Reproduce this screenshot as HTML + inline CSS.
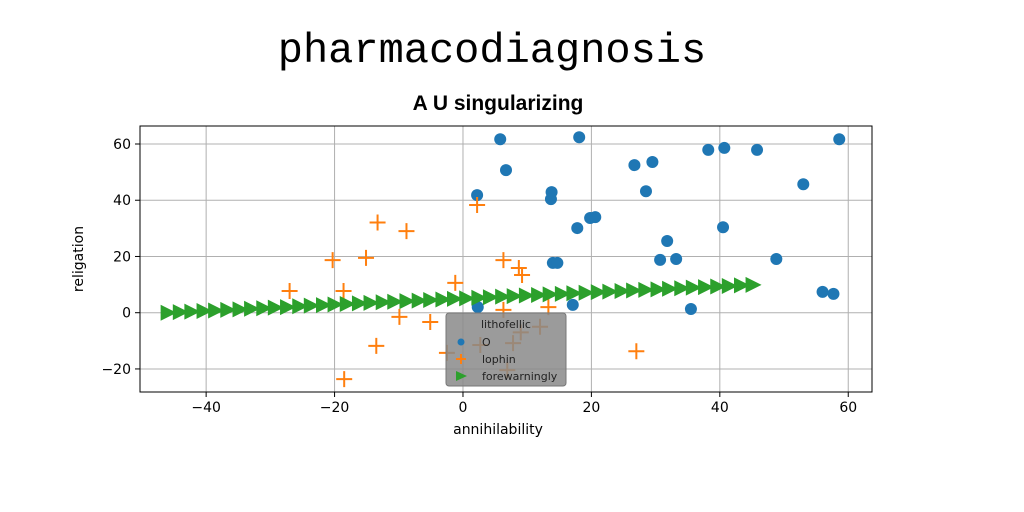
<!DOCTYPE html>
<html><head><meta charset="utf-8"><style>
body{margin:0;background:#fff;width:1024px;height:512px;overflow:hidden}
svg{display:block}
</style></head><body>
<svg id="chart" width="1024" height="512">
<text x="492" y="62" text-anchor="middle" font-family="Liberation Mono, monospace" font-size="42" fill="#000">pharmacodiagnosis</text>
<text x="498" y="110" text-anchor="middle" font-family="Liberation Sans Narrow, Liberation Sans, sans-serif" font-weight="bold" font-size="21" style="font-stretch:condensed" fill="#000">A U singularizing</text>
<g id="grid"></g><g id="marks"></g><g id="axes"></g><g id="legend"></g>
</svg>
<script>
const xTicks=[-40,-20,0,20,40,60];
const yTicks=[-20,0,20,40,60];
const blueX=[5.8,18.1,6.7,2.2,13.8,13.7,26.7,29.5,38.2,40.7,45.8,58.6,53.0,28.5,17.8,19.8,20.6,31.8,40.5,14.0,14.7,30.7,33.2,48.8,56.0,57.7,17.1,35.5,2.3];
const blueY=[61.7,62.4,50.7,41.8,42.9,40.4,52.5,53.6,57.9,58.6,57.9,61.7,45.7,43.2,30.1,33.7,34.0,25.5,30.4,17.7,17.7,18.8,19.1,19.1,7.4,6.7,2.8,1.3,2.0];
const orangeX=[2.2,-13.3,-8.8,-20.3,-15.1,6.3,8.7,9.2,-27.0,-18.6,-1.2,-9.9,-5.1,-13.5,-18.5,6.3,13.3,27.0,-2.5,12.0,9.0,2.7,6.9,7.8];
const orangeY=[38.3,32.1,29.0,18.7,19.5,18.7,15.9,13.4,7.7,7.7,10.6,-1.5,-3.3,-11.8,-23.6,1.0,2.0,-13.7,-14.3,-5.0,-7.0,-11.5,-20.4,-10.8];
const greenX=[-46,-44.1,-42.3,-40.4,-38.6,-36.7,-34.8,-33,-31.1,-29.3,-27.4,-25.5,-23.7,-21.8,-20,-18.1,-16.2,-14.4,-12.5,-10.7,-8.8,-6.9,-5.1,-3.2,-1.4,0.5,2.4,4.2,6.1,7.9,9.8,11.7,13.5,15.4,17.2,19.1,21,22.8,24.7,26.5,28.4,30.3,32.1,34,35.8,37.7,39.6,41.4,43.3,45.1];
const greenY=[0,0.2,0.4,0.6,0.8,1,1.2,1.4,1.6,1.8,2,2.3,2.5,2.7,2.9,3.1,3.3,3.5,3.7,3.9,4.1,4.3,4.5,4.7,4.9,5.1,5.3,5.5,5.7,5.9,6.1,6.3,6.5,6.7,6.9,7.1,7.3,7.5,7.7,7.9,8.1,8.3,8.5,8.7,8.9,9.1,9.3,9.5,9.7,9.9];
const L=140,R=872,T=126,B=392;
const X0=-50.3,X1=63.7,Y0=-28.2,Y1=66.4;
const sx=v=>L+(v-X0)/(X1-X0)*(R-L);
const sy=v=>B-(v-Y0)/(Y1-Y0)*(B-T);
const NS="http://www.w3.org/2000/svg";
function mk(tag,attrs,parent){const e=document.createElementNS(NS,tag);for(const k in attrs)e.setAttribute(k,attrs[k]);parent.appendChild(e);return e;}
const grid=document.getElementById('grid'),marks=document.getElementById('marks'),axes=document.getElementById('axes'),leg=document.getElementById('legend');
xTicks.forEach(t=>{const x=sx(t);
 let g=mk('line',{x1:x,x2:x,y1:T,y2:B,stroke:'#b0b0b0','stroke-width':1},grid);
 
 
 let tk=mk('line',{x1:x,x2:x,y1:B,y2:B+5,stroke:'#000'},axes);
 
 
 let lb=mk('text',{x:x,y:B+20,'text-anchor':'middle','font-family':'DejaVu Sans, sans-serif','font-size':14},axes);
 lb.textContent=(t<0?'\u2212'+(-t):t);
 
 
});
yTicks.forEach(t=>{const y=sy(t);
 let g=mk('line',{x1:L,x2:R,y1:y,y2:y,stroke:'#b0b0b0','stroke-width':1},grid);
 
 
 let tk=mk('line',{x1:L-5,x2:L,y1:y,y2:y,stroke:'#000'},axes);
 
 
 let lb=mk('text',{x:L-9,y:y+5,'text-anchor':'end','font-family':'DejaVu Sans, sans-serif','font-size':14},axes);
 lb.textContent=(t<0?'\u2212'+(-t):t);
 
 
});
let fr=mk('rect',{x:L,y:T,width:R-L,height:B-T,fill:'none',stroke:'#000','stroke-width':1},axes);


let xl=mk('text',{x:(L+R)/2-8,y:434,'text-anchor':'middle','font-family':'DejaVu Sans, sans-serif','font-size':14},axes);
xl.textContent='annihilability';


let yl=mk('text',{x:83,y:(T+B)/2,'text-anchor':'middle','font-family':'DejaVu Sans, sans-serif','font-size':14,transform:`rotate(-90 83 ${(T+B)/2})`},axes);
yl.textContent='religation';


blueX.forEach((v,i)=>{
 let c=mk('circle',{cx:sx(v),cy:sy(blueY[i]),r:6,fill:'#1f77b4'},marks);
 
 
});
orangeX.forEach((v,i)=>{const x=sx(v),y=sy(orangeY[i]);
 let p=mk('path',{d:`M${x-8},${y}H${x+8}M${x},${y-8}V${y+8}`,stroke:'#ff7f0e','stroke-width':2,fill:'none'},marks);
 
 
});
greenX.forEach((v,i)=>{const x=sx(v),y=sy(greenY[i]);
 let p=mk('path',{d:`M${x-7},${y-8}L${x+9},${y}L${x-7},${y+8}Z`,fill:'#2ca02c'},marks);
 
 
});
let lb=mk('rect',{x:446,y:313,width:120,height:73,rx:3,fill:'#8a8a8a','fill-opacity':0.85,stroke:'#777'},leg);


let lt=mk('text',{x:506,y:328,'text-anchor':'middle','font-family':'DejaVu Sans, sans-serif','font-size':11,fill:'#222'},leg);
lt.textContent='lithofellic';


[['O','c'],['lophin','p'],['forewarningly','t']].forEach((e,i)=>{const y=342+i*17;
 let m;
 if(e[1]=='c')m=mk('circle',{cx:461,cy:y,r:3.5,fill:'#1f77b4'},leg);
 else if(e[1]=='p')m=mk('path',{d:`M456,${y}H466M461,${y-5}V${y+5}`,stroke:'#ff7f0e','stroke-width':2},leg);
 else m=mk('path',{d:`M456,${y-5}L467,${y}L456,${y+5}Z`,fill:'#2ca02c'},leg);
 
 
 let t=mk('text',{x:482,y:y+4,'font-family':'DejaVu Sans, sans-serif','font-size':11,fill:'#222'},leg);
 t.textContent=e[0];
 
 
});
</script>
</body></html>
